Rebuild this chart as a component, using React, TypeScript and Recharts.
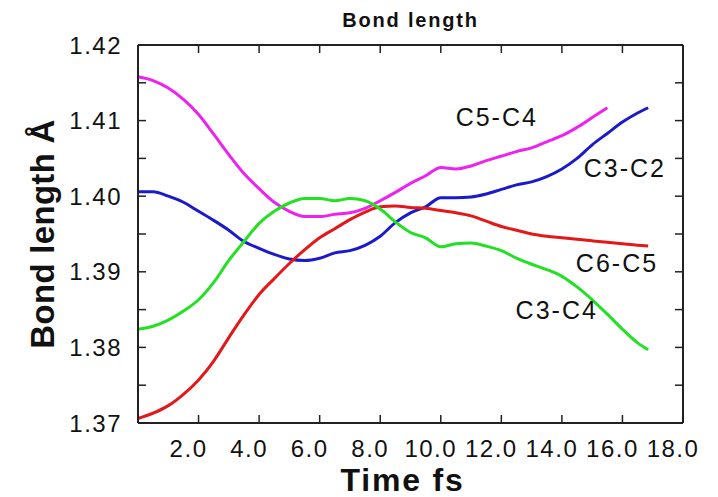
import { LineChart, Line, XAxis, YAxis, ReferenceDot } from "recharts";

// time in fs
const times = [
  0, 0.5, 1, 1.5, 2, 2.5, 3, 3.5, 4, 4.5, 5, 5.5, 6, 6.5, 7, 7.5, 8, 8.5,
  9, 9.5, 10, 10.5, 11, 11.5, 12, 12.5, 13, 13.5, 14, 14.5, 15, 15.5, 16,
  16.5, 16.85,
];

// bond lengths (Å)
const c5c4 = [
  1.4158, 1.4153, 1.4143, 1.4128, 1.4108, 1.4082, 1.4055, 1.403, 1.401, 1.3992,
  1.398, 1.3973, 1.3973, 1.3976, 1.3978, 1.3984, 1.3994, 1.4005, 1.4017, 1.4027,
  1.4038, 1.4036, 1.404, 1.4047, 1.4053, 1.4059, 1.4064, 1.4072, 1.408, 1.4091,
  1.4104, 1.4117, null, null, null,
];
const c3c2 = [
  1.4006, 1.4006, 1.4, 1.3992, 1.398, 1.3968, 1.3955, 1.394, 1.3931, 1.3923,
  1.3917, 1.3915, 1.3918, 1.3925, 1.3928, 1.3935, 1.3947, 1.3965, 1.3978, 1.3986,
  1.3998, 1.3998, 1.3999, 1.4003, 1.4009, 1.4015, 1.4019, 1.4026, 1.4036, 1.405,
  1.4068, 1.4083, 1.4098, 1.411, 1.4117,
];
const c6c5 = [
  1.3706, 1.3713, 1.3723, 1.3738, 1.3757, 1.3782, 1.3813, 1.3843, 1.387, 1.3891,
  1.3911, 1.3929, 1.3945, 1.3957, 1.3969, 1.3979, 1.3986, 1.3987, 1.3985, 1.3984,
  1.3981, 1.3978, 1.3974, 1.3967, 1.396, 1.3955, 1.395, 1.3947, 1.3945, 1.3943,
  1.3941, 1.3939, 1.3937, 1.3935, 1.3934,
];
const c3c4 = [
  1.3824, 1.3828, 1.3836, 1.3848, 1.3863, 1.3886, 1.3915, 1.394, 1.3964, 1.398,
  1.3991, 1.3997, 1.3997, 1.3994, 1.3997, 1.3994, 1.3983, 1.3966, 1.3952, 1.3945,
  1.3933, 1.3937, 1.3938, 1.3934, 1.3928, 1.3918, 1.391, 1.3903, 1.3894, 1.388,
  1.3863, 1.3844, 1.3824, 1.3806, 1.3797,
];

const xTicks = [2, 4, 6, 8, 10, 12, 14, 16, 18];
const yTicks = [
  1.37, 1.375, 1.38, 1.385, 1.39, 1.395, 1.4, 1.405, 1.41, 1.415, 1.42,
];

// in-plot labels, data coords
const labelNames = ["C5-C4", "C3-C2", "C6-C5", "C3-C4"];
const labelT = [11.85, 16.08, 15.82, 13.83];
const labelV = [1.4105, 1.4037, 1.3912, 1.3849];

const data = times.map((t, i) => ({
  t,
  c5c4: c5c4[i],
  c3c2: c3c2[i],
  c6c5: c6c5[i],
  c3c4: c3c4[i],
}));

const FONT = "'Liberation Sans', Arial, Helvetica, sans-serif";
const AXIS = "#222";
const TICK = 8;

// inward tick marks drawn by hand, labels outside like gnuplot
function BottomTick(props: any) {
  const { x, y, payload } = props;
  return (
    <g>
      <line x1={x} x2={x} y1={y} y2={y - TICK} stroke={AXIS} strokeWidth={1.5} />
      <text
        x={x - 10}
        y={y + 17}
        dy="0.71em"
        textAnchor="middle"
        fontSize={24}
        fill="#111"
        fontFamily={FONT}
        letterSpacing={1.5}
      >
        {payload.value.toFixed(1)}
      </text>
    </g>
  );
}

function TopTick(props: any) {
  const { x, y } = props;
  return <line x1={x} x2={x} y1={y} y2={y + TICK} stroke={AXIS} strokeWidth={1.5} />;
}

function LeftTick(props: any) {
  const { x, y, payload } = props;
  const major = Math.round(payload.value * 1000) % 10 === 0;
  return (
    <g>
      <line x1={x} x2={x + TICK} y1={y} y2={y} stroke={AXIS} strokeWidth={1.5} />
      {major && (
        <text
          x={x - 16}
          y={y}
          dy="0.355em"
          textAnchor="end"
          fontSize={24}
          fill="#111"
          fontFamily={FONT}
          letterSpacing={1.5}
        >
          {payload.value.toFixed(2)}
        </text>
      )}
    </g>
  );
}

function RightTick(props: any) {
  const { x, y } = props;
  return <line x1={x} x2={x - TICK} y1={y} y2={y} stroke={AXIS} strokeWidth={1.5} />;
}

export default function App() {
  return (
    <div style={{ position: "absolute", left: 0, top: 0, background: "#fff" }}>
      <LineChart
        width={718}
        height={497}
        data={data}
        margin={{ top: 44, right: 34, bottom: 0, left: 0 }}
      >
        <XAxis
          dataKey="t"
          type="number"
          domain={[0, 18]}
          ticks={xTicks}
          interval={0}
          height={74}
          tickSize={0}
          tickMargin={0}
          tickLine={false}
          tick={<BottomTick />}
          stroke={AXIS}
          strokeWidth={2}
          label={{
            value: "Time fs",
            position: "insideBottom",
            offset: 6,
            dx: -8,
            style: { fontSize: 32, fontWeight: "bold", fill: "#111", fontFamily: FONT, letterSpacing: 1.8 },
          }}
        />
        <XAxis
          xAxisId="top"
          dataKey="t"
          type="number"
          orientation="top"
          domain={[0, 18]}
          ticks={xTicks}
          interval={0}
          height={1}
          tickSize={0}
          tickMargin={0}
          tickLine={false}
          tick={<TopTick />}
          stroke={AXIS}
          strokeWidth={2}
          label={{
            value: "Bond length",
            position: "top",
            offset: 17,
            style: { fontSize: 20, fontWeight: "bold", fill: "#111", fontFamily: FONT, letterSpacing: 1.8 },
          }}
        />
        <YAxis
          type="number"
          domain={[1.37, 1.42]}
          ticks={yTicks}
          interval={0}
          width={138}
          tickSize={0}
          tickMargin={0}
          tickLine={false}
          tick={<LeftTick />}
          stroke={AXIS}
          strokeWidth={2}
          allowDataOverflow
          label={{
            value: "Bond length Å",
            angle: -90,
            position: "insideLeft",
            offset: 42,
            style: { textAnchor: "middle", fontSize: 33, fontWeight: "bold", fill: "#111", fontFamily: FONT, letterSpacing: 0.3 },
          }}
        />
        <YAxis
          yAxisId="right"
          orientation="right"
          type="number"
          domain={[1.37, 1.42]}
          ticks={yTicks}
          interval={0}
          width={1}
          tickSize={0}
          tickMargin={0}
          tickLine={false}
          tick={<RightTick />}
          stroke={AXIS}
          strokeWidth={2}
          allowDataOverflow
        />
        <Line type="monotone" dataKey="c5c4" stroke="#ee22ee" strokeWidth={3} dot={false} isAnimationActive={false} />
        <Line type="monotone" dataKey="c3c2" stroke="#1a1acc" strokeWidth={3} dot={false} isAnimationActive={false} />
        <Line type="monotone" dataKey="c6c5" stroke="#e41818" strokeWidth={3} dot={false} isAnimationActive={false} />
        <Line type="monotone" dataKey="c3c4" stroke="#22e022" strokeWidth={3} dot={false} isAnimationActive={false} />
        {labelNames.map((name, i) => (
          <ReferenceDot
            key={name}
            x={labelT[i]}
            y={labelV[i]}
            r={0}
            stroke="none"
            fill="none"
            label={{
              value: name,
              position: "center",
              style: { fontSize: 25, fill: "#111", fontFamily: FONT, letterSpacing: 2 },
            }}
          />
        ))}
      </LineChart>
    </div>
  );
}
